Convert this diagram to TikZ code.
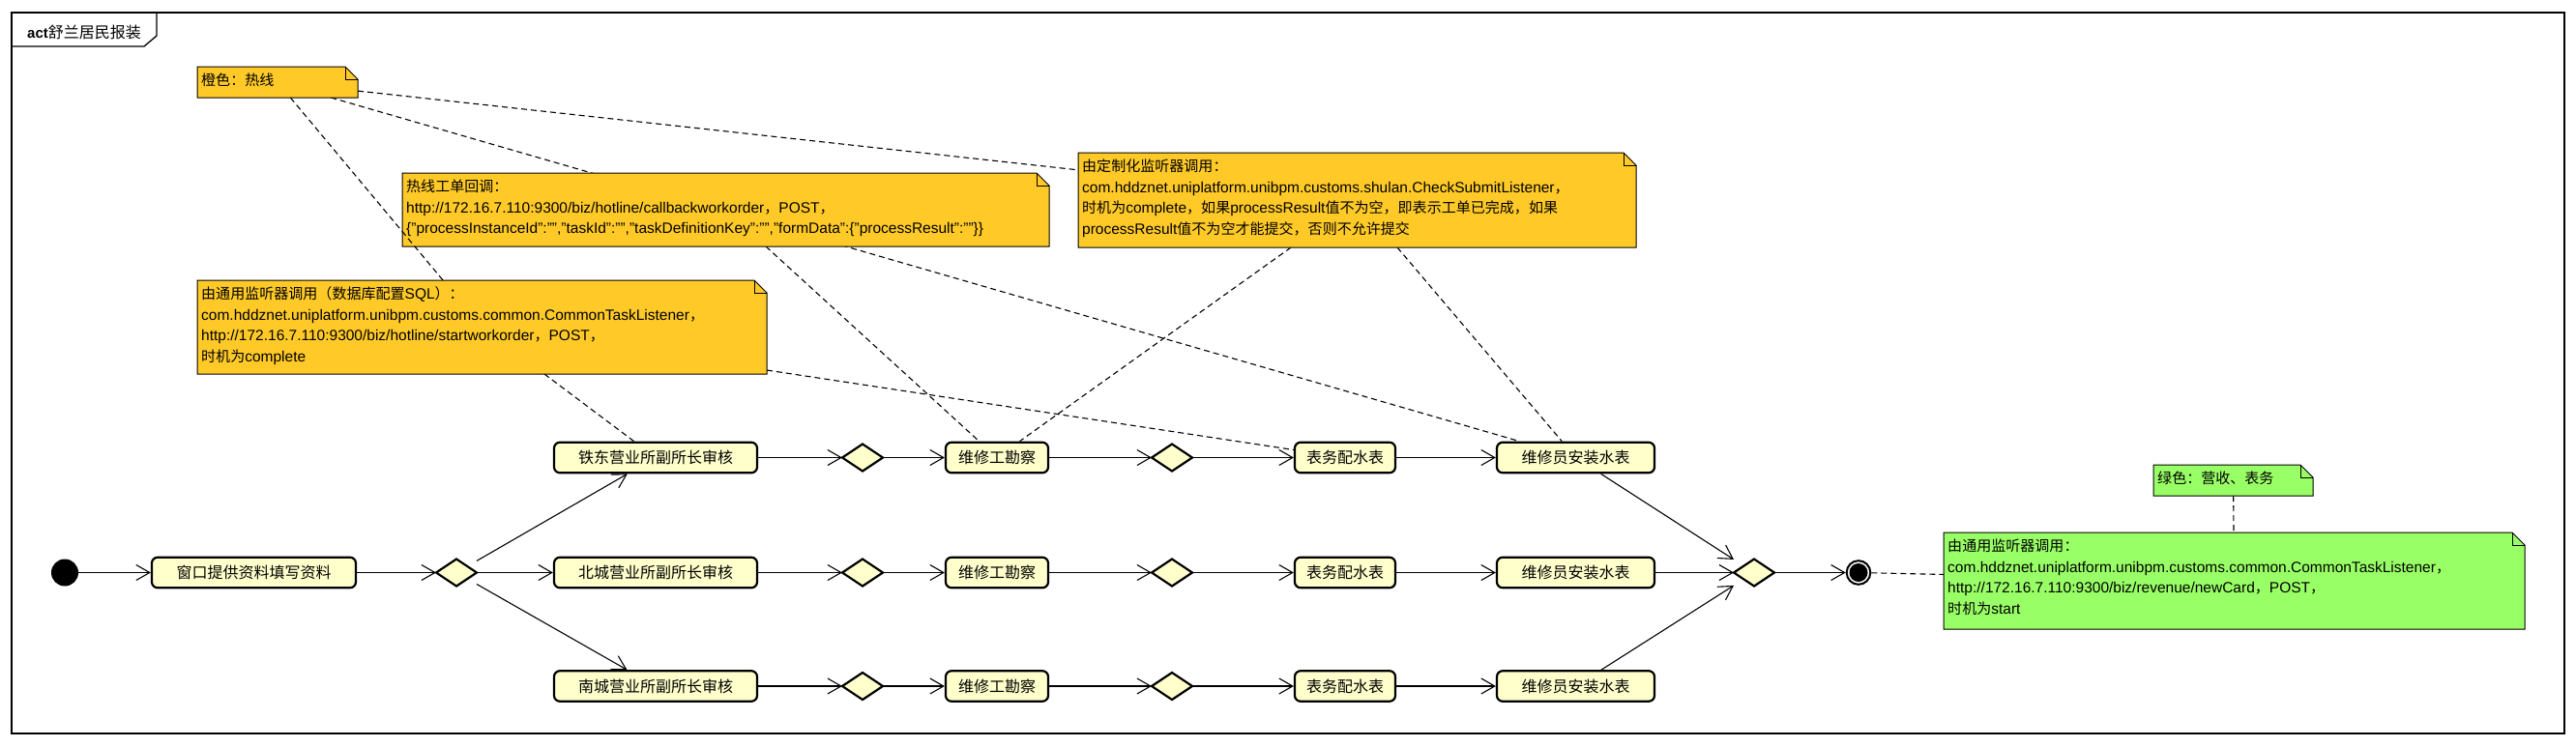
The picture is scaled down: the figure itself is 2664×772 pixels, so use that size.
\documentclass[tikz,border=0pt]{standalone}
\usepackage{fontspec}
\setmainfont{Liberation Sans}
\newfontfamily\cjk{Noto Sans CJK SC}[Scale=0.97]
\newfontfamily\cjkb{Noto Sans CJK SC}
\usetikzlibrary{arrows.meta}
\pgfdeclarelayer{bg}
\pgfsetlayers{bg,main}
\definecolor{noteor}{RGB}{255,202,40}
\definecolor{notegr}{RGB}{153,255,102}
\definecolor{actfill}{RGB}{255,255,204}
\newcommand\zh[1]{{\cjk #1}}
\tikzset{
 actbox/.style={rectangle, rounded corners=6pt, draw=black, line width=2.2pt, fill=actfill, minimum height=31.5pt, inner sep=0pt, font=\cjkb\fontsize{16pt}{19pt}\selectfont},
 diabox/.style={rectangle, minimum width=42pt, minimum height=28pt, inner sep=0pt, outer sep=0pt},
 diashape/.style={draw=black, line width=2.2pt, fill=actfill, line join=miter},
 flow/.style={draw=black, line width=1.1pt, -{Straight Barb[length=14pt,width=16pt]}},
 notelink/.style={draw=black, line width=1.1pt, dash pattern=on 6pt off 4pt},
 noteanchor/.style={rectangle, inner sep=0pt, outer sep=0pt},
 noteedge/.style={draw=black, line width=1pt},
 notetext/.style={inner sep=0pt, anchor=base west, font=\fontsize{15.5pt}{21.7pt}\selectfont, text=black},
 framepath/.style={draw=black, line width=1.3pt},
}
\newcommand\mknote[7]{%
 \node[noteanchor, minimum width=#4pt, minimum height=#5pt, anchor=north west] (#1) at (#2,#3) {};
 \filldraw[noteedge, fill=#6] (#1.south west) -- (#1.north west) -- ([xshift=-13pt]#1.north east) -- ([yshift=-13pt]#1.north east) -- (#1.south east) -- cycle;
 \draw[noteedge] ([xshift=-13pt]#1.north east) -- ([xshift=-13pt,yshift=-13pt]#1.north east) -- ([yshift=-13pt]#1.north east);
 \node[notetext] (#1t) at ([xshift=4pt,yshift=-19.5pt]#1.north west) {\parbox[t]{#4pt}{\raggedright\baselineskip=21.7pt #7}};
}
\newcommand\mkdia[3]{%
 \node[diabox] (#1) at (#2,#3) {};
 \filldraw[diashape] (#1.west) -- (#1.north) -- (#1.east) -- (#1.south) -- cycle;
}
\begin{document}
\begin{tikzpicture}[x=1pt,y=-1pt]
\useasboundingbox (0,0) rectangle (2664,772);
% frame
\draw[framepath] (12,13) rectangle (2652,759);
\draw[framepath] (12,48) -- (149,48) -- (162,37) -- (162,13);
\node[anchor=base west, inner sep=0pt] (title) at (28,39.5) {\fontsize{15pt}{18pt}\selectfont\bfseries act\mdseries\cjkb\fontsize{16pt}{18pt}\selectfont 舒兰居民报装};

% activities
\node[circle, fill=black, minimum size=28pt, inner sep=0pt] (init) at (67,592.5) {};
\node[actbox, minimum width=211pt] (w) at (262.5,592.5) {窗口提供资料填写资料};
\mkdia{d0}{472}{592.5}
\node[actbox, minimum width=210pt] (a1) at (678,473.5) {铁东营业所副所长审核};
\node[actbox, minimum width=210pt] (a2) at (678,592.5) {北城营业所副所长审核};
\node[actbox, minimum width=210pt] (a3) at (678,710) {南城营业所副所长审核};
\mkdia{da1}{892}{473.5}
\mkdia{da2}{892}{592.5}
\mkdia{da3}{892}{710}
\node[actbox, minimum width=106pt] (k1) at (1031,473.5) {维修工勘察};
\node[actbox, minimum width=106pt] (k2) at (1031,592.5) {维修工勘察};
\node[actbox, minimum width=106pt] (k3) at (1031,710) {维修工勘察};
\mkdia{db1}{1212}{473.5}
\mkdia{db2}{1212}{592.5}
\mkdia{db3}{1212}{710}
\node[actbox, minimum width=104pt] (b1) at (1391,473.5) {表务配水表};
\node[actbox, minimum width=104pt] (b2) at (1391,592.5) {表务配水表};
\node[actbox, minimum width=104pt] (b3) at (1391,710) {表务配水表};
\node[actbox, minimum width=163pt] (i1) at (1629.5,473.5) {维修员安装水表};
\node[actbox, minimum width=163pt] (i2) at (1629.5,592.5) {维修员安装水表};
\node[actbox, minimum width=163pt] (i3) at (1629.5,710) {维修员安装水表};
\mkdia{dm}{1814}{592.5}
\node[circle, draw=black, line width=2pt, fill=white, minimum size=24.6pt, inner sep=0pt,
      path picture={\fill[black] (path picture bounding box.center) circle (9.5pt);}] (fin) at (1922,592.5) {};

% notes
\mknote{nor}{204}{69}{166}{32}{noteor}{\zh{橙色：热线}}
\mknote{ncb}{416}{179}{669}{76}{noteor}{\zh{热线工单回调：}\\http://172.16.7.110:9300/biz/hotline/callbackworkorder\zh{，}POST\zh{，}\\\{"processInstanceId":"","taskId":"","taskDefinitionKey":"","formData":\{"processResult":""\}\}}
\mknote{ncs}{1115}{158}{577}{98}{noteor}{\zh{由定制化监听器调用：}\\com.hddznet.uniplatform.unibpm.customs.shulan.CheckSubmitListener\zh{，}\\\zh{时机为}complete\zh{，如果}processResult\zh{值不为空，即表示工单已完成，如果}\\processResult\zh{值不为空才能提交，否则不允许提交}}
\mknote{nsql}{204}{290}{589}{97}{noteor}{\zh{由通用监听器调用（数据库配置}SQL\zh{）：}\\com.hddznet.uniplatform.unibpm.customs.common.CommonTaskListener\zh{，}\\http://172.16.7.110:9300/biz/hotline/startworkorder\zh{，}POST\zh{，}\\\zh{时机为}complete}
\mknote{ngs}{2227}{481}{165}{32}{notegr}{\zh{绿色：营收、表务}}
\mknote{ngb}{2010}{551}{601}{100}{notegr}{\zh{由通用监听器调用：}\\com.hddznet.uniplatform.unibpm.customs.common.CommonTaskListener\zh{，}\\http://172.16.7.110:9300/biz/revenue/newCard\zh{，}POST\zh{，}\\\zh{时机为}start}

% note links beneath notes
\begin{pgfonlayer}{bg}
\draw[notelink] (nor) -- (ncs);
\draw[notelink] (nor) -- (i1);
\draw[notelink] (ncb) -- (k1);
\draw[notelink] (ncs) -- (k1);
\draw[notelink] (ncs) -- (i1);
\draw[notelink] (nsql) -- (a1);
\draw[notelink] (nsql) -- (b1);
\draw[notelink] (ngs) -- (ngb);
\draw[notelink] (fin) -- (ngb);
\end{pgfonlayer}
\draw[notelink] (nor) -- (nsql);

% control flow
\draw[flow] (init) -- (w);
\draw[flow] (w) -- (d0);
\foreach \r in {1,2,3} {
 \draw[flow] (d0) -- (a\r);
 \draw[flow] (a\r) -- (da\r);
 \draw[flow] (da\r) -- (k\r);
 \draw[flow] (k\r) -- (db\r);
 \draw[flow] (db\r) -- (b\r);
 \draw[flow] (b\r) -- (i\r);
 \draw[flow] (i\r) -- (dm);
}
\draw[flow] (dm) -- (fin);
\end{tikzpicture}
\end{document}
